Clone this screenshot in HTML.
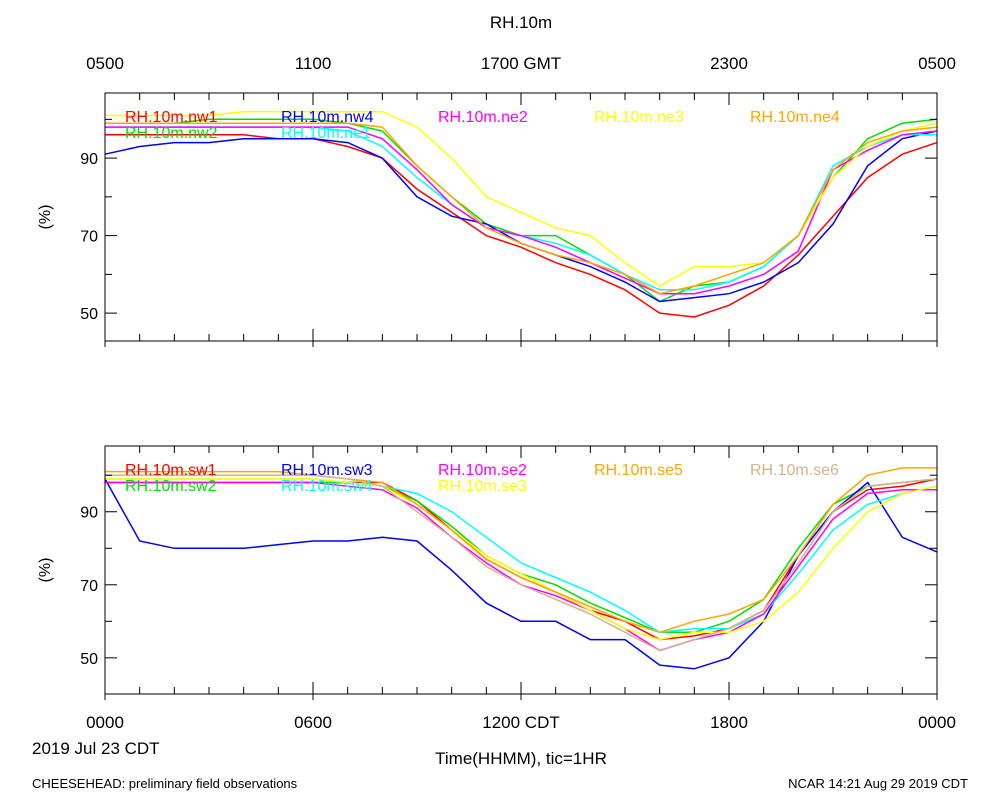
<!DOCTYPE html>
<html><head><meta charset="utf-8"><style>
body{margin:0;background:#fff;}
svg{display:block;font-family:"Liberation Sans",sans-serif;}
</style></head><body>
<svg id="chart" width="1000" height="800"></svg>
<script>
const hours=[0,1,2,3,4,5,6,7,8,9,10,11,12,13,14,15,16,17,18,19,20,21,22,23,24];
const topNames=["RH.10m.nw1","RH.10m.nw2","RH.10m.nw4","RH.10m.ne1","RH.10m.ne2","RH.10m.ne3","RH.10m.ne4"];
const topColors=["#ff0000","#00e000","#0000ff","#00ffff","#ff00ff","#ffff00","#ffa500"];
const nw1=[96,96,96,96,96,95,95,93,90,82,76,70,67,63,60,56,50,49,52,57,65,75,85,91,94];
const nw2=[99,99,99,100,100,100,100,99,97,88,80,73,70,70,65,60,53,57,58,62,70,85,95,99,100];
const nw4=[91,93,94,94,95,95,95,94,90,80,75,73,68,65,62,58,53,54,55,58,63,73,88,95,97];
const ne1=[98,98,98,98,98,98,98,97,93,85,78,72,70,68,65,60,56,56,58,62,70,88,93,96,96];
const ne2=[98,98,98,98,98,98,98,98,95,87,78,72,70,67,63,59,55,55,57,60,66,87,92,96,97];
const ne3=[101,101,101,101,102,102,102,102,102,98,90,80,76,72,70,63,57,62,62,63,70,85,93,97,99];
const ne4=[99,99,99,99,99,99,99,99,98,88,80,72,68,65,63,60,55,57,60,63,70,87,94,97,98];
const topSeries=[nw1,nw2,nw4,ne1,ne2,ne3,ne4];
const botNames=["RH.10m.sw1","RH.10m.sw2","RH.10m.sw3","RH.10m.sw4","RH.10m.se2","RH.10m.se3","RH.10m.se5","RH.10m.se6"];
const botColors=["#ff0000","#00e000","#0000ff","#00ffff","#ff00ff","#ffff00","#ffa500","#d2b48c"];
const sw1=[98,98,98,98,98,98,98,98,98,93,85,77,72,68,63,60,55,56,58,63,78,90,96,97,99];
const sw2=[98,98,98,98,98,98,98,98,97,93,86,78,73,70,65,61,57,57,60,66,80,92,97,98,99];
const sw3=[99,82,80,80,80,81,82,82,83,82,74,65,60,60,55,55,48,47,50,60,78,90,98,83,79];
const sw4=[99,99,99,99,99,99,99,98,97,95,90,83,76,72,68,63,57,58,58,62,73,85,92,95,97];
const se2=[98,98,98,98,98,98,98,97,96,91,83,76,70,67,63,58,52,55,57,62,75,88,95,96,96];
const se3=[99,99,99,99,99,99,99,98,97,92,85,78,73,68,63,58,55,57,57,60,68,80,90,95,97];
const se5=[101,101,101,101,101,101,100,99,98,92,85,77,72,68,64,60,57,60,62,66,78,92,100,102,102];
const se6=[100,100,100,100,100,100,100,99,97,90,83,75,70,66,62,57,52,55,58,63,76,90,97,98,99];
const botSeries=[sw1,sw2,sw3,sw4,se2,se3,se5,se6];
const yTicks=[50,70,90];
const topXLabels=["0500","1100","1700 GMT","2300","0500"];
const botXLabels=["0000","0600","1200 CDT","1800","0000"];

const NS="http://www.w3.org/2000/svg";
const svg=document.getElementById("chart");
function mk(tag,attrs,parent){const e=document.createElementNS(NS,tag);for(const k in attrs)e.setAttribute(k,attrs[k]);(parent||svg).appendChild(e);return e;}
const X0=105,X1=937;
function xs(h){return X0+(X1-X0)*h/24;}
function panel(pTop,pBot,yMin,yMax,series,names,colors,pname,topLabels){
  const ys=v=>pBot-(v-yMin)/(yMax-yMin)*(pBot-pTop);
  const g=mk("g",{});
  
  
  series.forEach((s,i)=>{
    const d=s.map((v,j)=>(j?"L":"M")+xs(hours[j]).toFixed(1)+","+ys(v).toFixed(1)).join("");
    const p=mk("path",{d:d,fill:"none",stroke:colors[i],"stroke-width":1.5},g);
    
    
  });
  const fr=mk("rect",{x:X0,y:pTop,width:X1-X0,height:pBot-pTop,fill:"none",stroke:"#000","stroke-width":1},g);
  
  
  for(let h=0;h<=24;h++){
    const L=h%6==0?12:7;
    mk("line",{x1:xs(h),x2:xs(h),y1:pBot,y2:pBot-L,stroke:"#000"},g);
    mk("line",{x1:xs(h),x2:xs(h),y1:pTop,y2:pTop+L,stroke:"#000"},g);
    if(h%6==0){mk("line",{x1:xs(h),x2:xs(h),y1:pBot,y2:pBot+6,stroke:"#000"},g);}
  }
  for(let v=50;v<=yMax;v+=10){
    if(v<yMin)continue;
    const L=(v%20==10)?12:7;
    mk("line",{x1:X0,x2:X0+L,y1:ys(v),y2:ys(v),stroke:"#000"},g);
    mk("line",{x1:X1,x2:X1-L,y1:ys(v),y2:ys(v),stroke:"#000"},g);
  }
  yTicks.forEach(v=>{
    const t=mk("text",{x:98,y:ys(v)+6,"text-anchor":"end","font-size":16},g);t.textContent=v;
    
    
  });
  const yt=mk("text",{x:0,y:0,"text-anchor":"middle","font-size":16,transform:`translate(50,${(pTop+pBot)/2}) rotate(-90)`},g);
  yt.textContent="(%)";
  
  
  const lx=[125,281,438,594,750];
  names.forEach((n,i)=>{
    const col=i%5, row=Math.floor(i/5);
    let x,y;
    if(names.length==7){ const pos=[[0,0],[0,1],[1,0],[1,1],[2,0],[3,0],[4,0]][i]; x=lx[pos[0]];y=pTop+29+pos[1]*16;}
    else { const pos=[[0,0],[0,1],[1,0],[1,1],[2,0],[2,1],[3,0],[4,0]][i]; x=lx[pos[0]];y=pTop+29+pos[1]*16;}
    const t=mk("text",{x:x,y:y,"font-size":16,fill:colors[i]},g);t.textContent=n;
    
    
  });
}
panel(93,341,42.8,106.8,topSeries,topNames,topColors,"top-panel");
panel(446,694,40.1,108,botSeries,botNames,botColors,"bottom-panel");
function txt(x,y,s,size,anchor,name){const t=mk("text",{x:x,y:y,"font-size":size,"text-anchor":anchor||"start"});t.textContent=s;
  
  return t;}
txt(521,28,"RH.10m",17,"middle","chart-title");
topXLabels.forEach((s,i)=>txt(xs(i*6),69,s,17,"middle","top-x-tick-label"));
botXLabels.forEach((s,i)=>txt(xs(i*6),728,s,17,"middle","bottom-x-tick-label"));
txt(32,754,"2019 Jul 23 CDT",17,"start","date-label");
txt(521,764,"Time(HHMM), tic=1HR",17,"middle","x-axis-title");
txt(32,788,"CHEESEHEAD: preliminary field observations",13,"start","footer-left");
txt(968,788,"NCAR 14:21 Aug 29 2019 CDT",13,"end","footer-right");
</script>
</body></html>
